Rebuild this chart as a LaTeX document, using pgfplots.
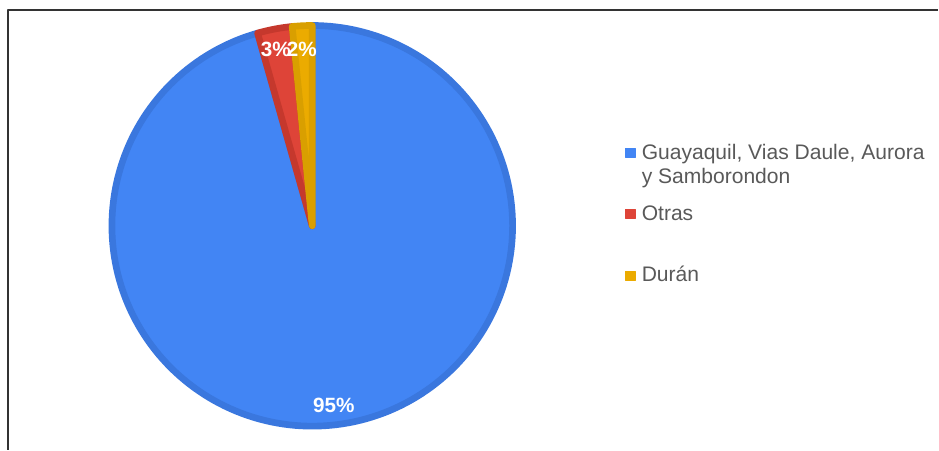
\documentclass[border=0pt]{standalone}
\usepackage{pgfplots}
\pgfplotsset{compat=1.18}
\usepackage{pgfplotstable}
\usepackage{fontspec}
\setmainfont{Liberation Sans}

\definecolor{pieblue}{HTML}{4285F4}
\definecolor{pieblueedge}{HTML}{3A77DE}
\definecolor{piered}{HTML}{DE4438}
\definecolor{pierededge}{HTML}{C5382D}
\definecolor{pieyellow}{HTML}{EBAB00}
\definecolor{pieyellowedge}{HTML}{D99F00}
\definecolor{legtext}{HTML}{595959}

% shares in percent, clockwise from 12 o'clock
\pgfplotstableread{
share
95.6
2.8
1.6
}\slices

\begin{document}
\begin{tikzpicture}
\pgfplotstablegetelem{0}{share}\of\slices \let\sA\pgfplotsretval
\pgfplotstablegetelem{1}{share}\of\slices \let\sB\pgfplotsretval
\pgfplotstablegetelem{2}{share}\of\slices \let\sC\pgfplotsretval
\pgfmathsetmacro\aA{90}
\pgfmathsetmacro\aB{\aA-3.6*\sA}
\pgfmathsetmacro\aC{\aB-3.6*\sB}
\pgfmathsetmacro\aD{\aC-3.6*\sC}
\begin{axis}[
    x=0.75pt, y=0.75pt,
    xmin=0, xmax=939, ymin=0, ymax=450,
    hide axis, clip=false,
    every axis plot/.append style={line join=round},
]
% canvas extent
\addplot[draw=none] coordinates {(0,0) (939,450)};
% frame
\addplot[color=black!80, line width=1.1pt] coordinates {(8,0) (8,440) (939,440)};

% slices
\addplot[fill=pieblue, draw=pieblueedge, line width=5pt, domain=\aB:\aA, samples=200, variable=\t]
    ({312.5+200.5*cos(\t)},{224+200.5*sin(\t)}) -- (312.5,224) -- cycle;
\addplot[fill=piered, draw=pierededge, line width=5pt, domain=\aC:\aB, samples=20, variable=\t]
    ({312.5+200.5*cos(\t)},{224+200.5*sin(\t)}) -- (312.5,224) -- cycle;
\addplot[fill=pieyellow, draw=pieyellowedge, line width=5pt, domain=\aD:\aC, samples=20, variable=\t]
    ({312.5+200.5*cos(\t)},{224+200.5*sin(\t)}) -- (312.5,224) -- cycle;

% slice labels
\node[white, font=\fontsize{15.5}{18}\selectfont\bfseries, anchor=base] at (334,37) {95\%};
\node[white, font=\fontsize{15.5}{18}\selectfont\bfseries, anchor=base] at (276,393) {3\%};
\node[white, font=\fontsize{15.5}{18}\selectfont\bfseries, anchor=base] at (302,393) {2\%};

% legend
\addplot[only marks, mark=square*, mark size=3.6pt, color=pieblue] coordinates {(631,297)};
\addplot[only marks, mark=square*, mark size=3.6pt, color=piered] coordinates {(631,236)};
\addplot[only marks, mark=square*, mark size=3.6pt, color=pieyellow] coordinates {(631,174)};
\begin{scope}[every node/.style={anchor=base west, inner sep=0pt, text=legtext, font=\fontsize{15.8}{18}\selectfont}]
\node at (642,290) {Guayaquil, Vias Daule, Aurora};
\node at (642,266) {y Samborondon};
\node at (642,229) {Otras};
\node at (642,168) {Durán};
\end{scope}
\end{axis}
\end{tikzpicture}
\end{document}
